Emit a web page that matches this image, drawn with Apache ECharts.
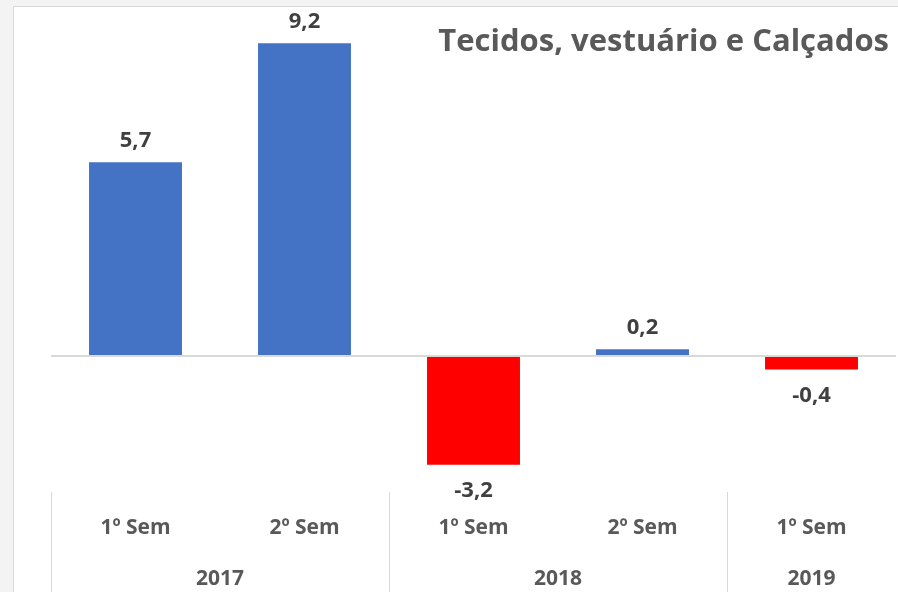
<!DOCTYPE html>
<html>
<head>
<meta charset="utf-8">
<script src="https://cdn.jsdelivr.net/npm/echarts@6/dist/echarts.min.js"></script>
<style>
  html, body { margin: 0; padding: 0; background: #f3f3f3; }
  #chart {
    position: absolute; left: 13px; top: 6px;
    width: 885px; height: 586px;
    background: #ffffff;
    border-left: 1px solid #d9d9d9; border-top: 1px solid #d9d9d9;
  }
</style>
</head>
<body>
<div id="chart"></div>
<script>
// dados
const semestres = ['1º Sem', '2º Sem', '1º Sem', '2º Sem', '1º Sem'];
const valores = [5.7, 9.2, -3.2, 0.2, -0.4];
// posições do eixo de anos (11 pontos, rótulo só onde há ano)
const anos = ['', '', '2017', '', '', '', '2018', '', '', '2019', ''];
const anoTicks = [0, 4, 8];

const azul = '#4472C4';
const vermelho = '#FF0000';
const fonte = 'Open Sans';

const chart = echarts.init(document.getElementById('chart'));

const option = {
  animation: false,
  title: {
    text: 'Tecidos, vestuário e Calçados',
    right: 5,
    top: 15,
    textStyle: { fontFamily: fonte, fontSize: 31, fontWeight: 'bold', color: '#595959' }
  },
  grid: { left: 37, right: -3, top: 9, bottom: 101 },
  xAxis: [
    {
      type: 'category',
      data: semestres,
      position: 'bottom',
      axisLine: { show: false },
      axisTick: { show: false },
      axisLabel: {
        margin: 26,
        fontFamily: fonte, fontSize: 21, fontWeight: 'bold', color: '#595959'
      }
    },
    {
      type: 'category',
      data: anos,
      boundaryGap: false,
      position: 'bottom',
      axisLine: { show: false },
      axisTick: {
        show: true,
        length: 101,
        interval: (i) => anoTicks.includes(i),
        lineStyle: { color: '#d9d9d9', width: 1 }
      },
      axisLabel: {
        interval: 0,
        margin: 77,
        fontFamily: fonte, fontSize: 21, fontWeight: 'bold', color: '#595959'
      }
    }
  ],
  yAxis: {
    type: 'value',
    min: -4,
    max: 10,
    show: false,
    splitLine: { show: false }
  },
  series: [{
    type: 'bar',
    xAxisIndex: 0,
    barWidth: '55%',
    data: valores.map(v => ({
      value: v,
      itemStyle: { color: v >= 0 ? azul : vermelho },
      label: { position: v >= 0 ? 'top' : 'bottom', distance: v >= 0 ? 10 : 15 }
    })),
    label: {
      show: true,
      formatter: p => String(p.value).replace('.', ','),
      fontFamily: fonte, fontSize: 22, fontWeight: 'bold', color: '#404040'
    },
    markLine: {
      silent: true,
      symbol: 'none',
      label: { show: false },
      lineStyle: { color: '#d9d9d9', width: 2, type: 'solid' },
      data: [{ yAxis: 0 }]
    }
  }]
};

chart.setOption(option);
</script>
</body>
</html>
